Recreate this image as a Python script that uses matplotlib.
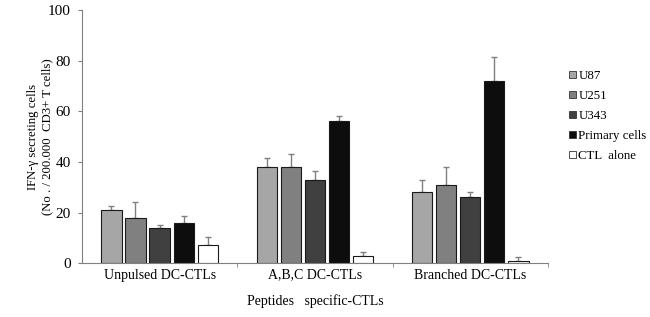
import numpy as np
import matplotlib
matplotlib.use("Agg")
import matplotlib.pyplot as plt
from matplotlib.patches import Patch

plt.rcParams['font.family'] = ['Liberation Serif', 'DejaVu Serif']

groups = ['Unpulsed DC-CTLs', 'A,B,C DC-CTLs', 'Branched DC-CTLs']
series = ['U87', 'U251', 'U343', 'Primary cells', 'CTL  alone']
colors = ['#a6a6a6', '#808080', '#404040', '#0d0d0d', '#ffffff']

# mean values per series (one value per group)
means = [
    [21, 38, 28],
    [18, 38, 31],
    [14, 33, 26],
    [16, 56, 72],
    [7, 3, 1],
]
# upper error
errs = [
    [1.5, 3.5, 5],
    [6, 5, 7],
    [1, 3.5, 2],
    [2.5, 2, 9.5],
    [3.5, 1.2, 1.5],
]

fig = plt.figure(figsize=(6.5, 3.17), dpi=100)
ax = fig.add_axes([0.126, 0.170, 0.717, 0.798])

x = np.arange(len(groups))
step = 0.155
width = 0.13
for i, (name, c) in enumerate(zip(series, colors)):
    pos = x + (i - 2) * step
    ax.bar(pos, means[i], width, color=c, edgecolor='#1a1a1a', linewidth=0.8,
           label=name, zorder=2)
    ax.errorbar(pos, means[i], yerr=[np.zeros(3), errs[i]], fmt='none',
                ecolor='#808080', elinewidth=1, capsize=2.5, capthick=1, zorder=1)

ax.set_xlim(-0.5, 2.5)
ax.set_ylim(0, 100)
ax.set_yticks([0, 20, 40, 60, 80, 100])
ax.set_xticks(x)
ax.set_xticklabels(groups, fontsize=10)
ax.set_xticks([0.5, 1.5, 2.5], minor=True)
ax.tick_params(axis='x', which='major', length=0, pad=4)
ax.tick_params(axis='x', which='minor', length=3, color='#808080')
ax.tick_params(axis='y', length=3, color='#808080', labelsize=11, pad=5)

for s in ['top', 'right']:
    ax.spines[s].set_visible(False)
for s in ['left', 'bottom']:
    ax.spines[s].set_color('#808080')

ax.set_ylabel('IFN-\u03b3 secreting cells\n(No . / 200.000  CD3+ T cells)', fontsize=9.2)
ax.yaxis.set_label_coords(-0.062, 0.5)
ax.set_xlabel('Peptides   specific-CTLs', fontsize=10, labelpad=9)

handles = [Patch(facecolor=c, edgecolor='#333333', linewidth=0.6) for c in colors]
fig.legend(handles, series, loc='upper left', bbox_to_anchor=(0.872, 0.787),
           frameon=False, fontsize=9.3, handlelength=0.55, handleheight=0.55,
           handletextpad=0.15, labelspacing=0.62, borderaxespad=0, borderpad=0.2)

fig.savefig('out.png', dpi=100)
